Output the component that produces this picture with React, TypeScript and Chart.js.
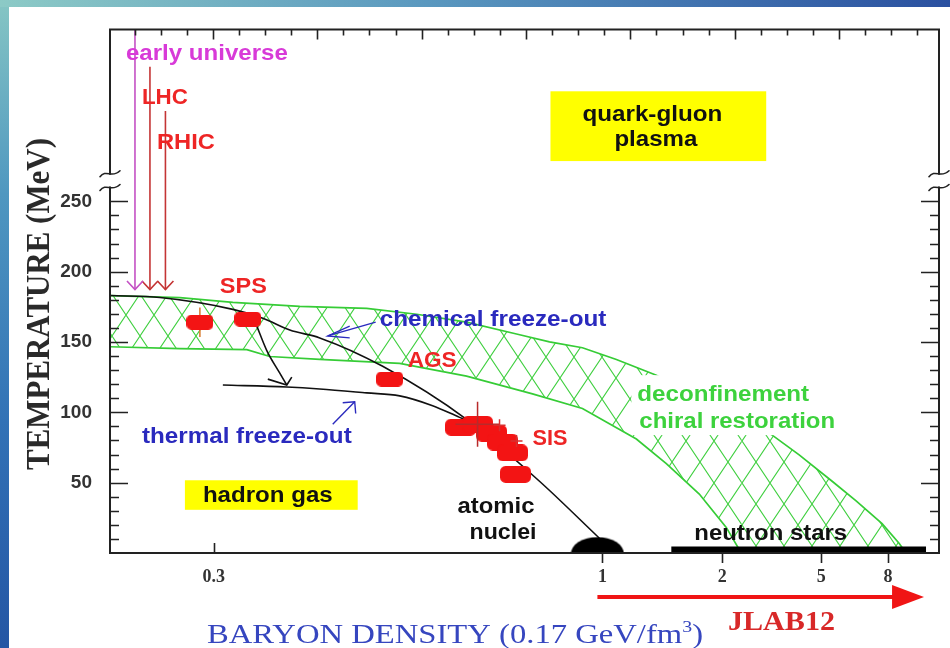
import React, { useEffect, useRef } from 'react';
import { Chart, registerables } from 'chart.js';

Chart.register(...registerables);

// ---------- axes (x = position along the schematic baryon-density axis, y = temperature in MeV) ----------
const X_MIN = 0;
const X_MAX = 830;
const Y_MIN = 0;
const Y_MAX = 372.2;
const X_TICK_POS = [104, 493, 613, 712, 779];
const X_TICK_LABELS = ['0.3', '1', '2', '5', '8'];
const X_TICK_INWARD = [true, false, false, false, false];
const Y_TICKS = [50, 100, 150, 200, 250];
const Y_MINOR_STEP = 10;
const Y_TICK_MAX = 250;
const Y_BREAK = [259.8, 269.6];
const TOP_TICK_START = -1.5;
const TOP_TICK_STEP = 26.125;
const TOP_TICK_COUNT = 31;

// ---------- phase band (deconfinement / chiral restoration) ----------
const BAND_UPPER_X = [0, 70, 123, 190, 257, 307, 357, 407, 440, 473, 507, 547, 663, 690, 723, 747, 773, 790, 797];
const BAND_UPPER_T = [183.0, 181.6, 178.1, 175.3, 173.9, 169.7, 164.1, 155.7, 150.1, 145.9, 137.6, 126.4, 83.8, 69.8, 51.0, 37.0, 20.9, 7.0, 0];
const BAND_LOWER_X = [0, 70, 137, 160, 210, 290, 357, 423, 473, 527, 557, 590, 617, 632, 797];
const BAND_LOWER_T = [146.6, 145.3, 144.6, 139.7, 137.6, 134.8, 125.7, 113.1, 102.7, 81.0, 63.5, 41.9, 18.2, 0, 0];

// ---------- freeze-out curves ----------
const CHEM_X = [0, 50, 123, 153, 180, 210, 273, 357, 430, 490];
const CHEM_T = [183.0, 181.6, 173.2, 166.9, 158.5, 152.9, 132.7, 95.0, 51.0, 10.5];
const THERM_X = [113, 177, 210, 257, 290, 323, 350, 357];
const THERM_T = [119.4, 118.0, 116.6, 113.8, 111.7, 104.7, 96.4, 94.3];
const SPS_ARROW_X = [147, 157, 170, 177];
const SPS_ARROW_T = [161.3, 143.9, 127.8, 119.4];
const SPS_HEAD_X = [158, 177, 182];
const SPS_HEAD_T = [123.6, 119.4, 125.0];

// label pointer arrows (blue)
const CHEM_PTR_X = [266, 218];
const CHEM_PTR_T = [164.1, 154.3];
const CHEM_PTR_HEAD_X = [240, 218, 240];
const CHEM_PTR_HEAD_T = [161.3, 154.3, 152.9];
const THERM_PTR_X = [223, 245];
const THERM_PTR_T = [91.5, 107.5];
const THERM_PTR_HEAD_X = [233, 245, 246];
const THERM_PTR_HEAD_T = [106.8, 107.5, 99.2];

// ---------- accelerator / early-universe probes ----------
const PROBE_X = [25, 40, 55.5];
const PROBE_T_START = [372.2, 345.7, 314.2];
const PROBE_T_END = [187.2, 187.2, 187.2];
const PROBE_HEAD_T = [193.4, 193.4, 193.4];
const PROBE_HEAD_HALF = [8, 8, 8];

// ---------- measured freeze-out points ----------
const SPS_X = [90, 138];
const SPS_T = [164.1, 166.2];
const SPS_ERR_T = [10.5, 0];
const AGS_X = [280];
const AGS_T = [123.6];
const SIS_X = [351, 368, 382, 393, 403, 406];
const SIS_T = [89.4, 91.5, 85.2, 78.9, 71.2, 55.9];
const SIS_ERR_X = [0, 22, 0, 0, 0, 0];
const SIS_ERR_T = [0, 16, 0, 0, 0, 0];
const SIS_CROSS_X = [390, 407];
const SIS_CROSS_T = [90.8, 79.6];

// ---------- nuclei & neutron stars ----------
const NUCLEI_X = [488];
const NUCLEI_T = [5.6];
const NSTAR_X = [562, 817];
const NSTAR_T = [2.1, 2.1];

// ---------- JLAB12 reach ----------
const JLAB_X = [488, 783, 815];

// ---------- colours ----------
const GREEN_LINE = '#36cc36';
const GREEN_TEXT = '#3dd23d';
const RED = '#ee2525';
const RED_LINE = '#c43434';
const MAGENTA = '#d83ad8';
const MAGENTA_LINE = '#c451c4';
const BLUE = '#2a2abe';
const BLACK = '#111111';
const BLOB_RED = '#f31414';

const SANS = '"Liberation Sans", Arial, sans-serif';
const SERIF = '"Liberation Serif", "Times New Roman", serif';

// in-plot labels: text, left/right in x units, baseline in MeV
const LABELS = [
  { text: 'early universe', x0: 16, x1: 178, t: 350.6, color: MAGENTA },
  { text: 'LHC', x0: 32, x1: 78, t: 319.1, color: RED },
  { text: 'RHIC', x0: 47, x1: 105, t: 287.0, color: RED },
  { text: 'quark-gluon', x0: 473, x1: 613, t: 307.3, color: BLACK },
  { text: 'plasma', x0: 505, x1: 588, t: 289.1, color: BLACK },
  { text: 'SPS', x0: 110, x1: 157, t: 185.1, color: RED },
  { text: 'chemical freeze-out', x0: 270, x1: 497, t: 161.3, color: BLUE },
  { text: 'AGS', x0: 298, x1: 347, t: 132.0, color: RED },
  { text: 'thermal freeze-out', x0: 32, x1: 242, t: 78.2, color: BLUE },
  { text: 'SIS', x0: 423, x1: 458, t: 76.8, color: RED },
  { text: 'deconfinement', x0: 528, x1: 700, t: 108.2, color: GREEN_TEXT },
  { text: 'chiral restoration', x0: 530, x1: 726, t: 88.7, color: GREEN_TEXT },
  { text: 'hadron gas', x0: 93, x1: 223, t: 36.3, color: BLACK },
  { text: 'atomic', x0: 348, x1: 425, t: 28.6, color: BLACK },
  { text: 'nuclei', x0: 360, x1: 427, t: 9.8, color: BLACK },
  { text: 'neutron stars', x0: 585, x1: 738, t: 9.1, color: BLACK },
];
const BOXES = [
  { x0: 441, x1: 657, t0: 278.6, t1: 328.2, color: '#ffff00' },
  { x0: 75, x1: 248, t0: 30.7, t1: 51.7, color: '#ffff00' },
  { x0: 522, x1: 740, t0: 83.8, t1: 126.4, color: '#ffffff' },
];

function pts(xs: number[], ys: number[]) {
  return xs.map((x, i) => ({ x, y: ys[i] }));
}

function lineDs(data: any[], color: string, width: number, order: number, extra: any = {}) {
  return {
    data,
    showLine: true,
    borderColor: color,
    borderWidth: width,
    pointRadius: 0,
    pointHoverRadius: 0,
    fill: false,
    tension: 0,
    order,
    ...extra,
  };
}

function makeBlob(w: number, h: number, color: string) {
  const c = document.createElement('canvas');
  c.width = w;
  c.height = h;
  const g = c.getContext('2d')!;
  const r = h * 0.33;
  g.fillStyle = color;
  g.beginPath();
  g.moveTo(r, 0);
  g.arcTo(w, 0, w, h, r);
  g.arcTo(w, h, 0, h, r);
  g.arcTo(0, h, 0, 0, r);
  g.arcTo(0, 0, w, 0, r);
  g.closePath();
  g.fill();
  return c;
}

function makeDome(w: number, h: number) {
  const c = document.createElement('canvas');
  c.width = w;
  c.height = h;
  const g = c.getContext('2d')!;
  g.fillStyle = '#000';
  g.beginPath();
  g.ellipse(w / 2, h, w / 2 - 0.5, h - 0.5, 0, Math.PI, 2 * Math.PI);
  g.closePath();
  g.fill();
  return c;
}

function makeHatch() {
  const c = document.createElement('canvas');
  c.width = 28;
  c.height = 42;
  const g = c.getContext('2d')!;
  g.strokeStyle = '#3fcf3f';
  g.lineWidth = 1.1;
  g.beginPath();
  g.moveTo(0, 0);
  g.lineTo(28, 42);
  g.moveTo(28, 0);
  g.lineTo(0, 42);
  g.stroke();
  return document.createElement('canvas').getContext('2d')!.createPattern(c, 'repeat')!;
}

function fitText(ctx: CanvasRenderingContext2D, text: string, left: number, right: number, baseline: number, font: string, color: string) {
  ctx.save();
  ctx.font = font;
  ctx.fillStyle = color;
  ctx.textAlign = 'left';
  ctx.textBaseline = 'alphabetic';
  const w = ctx.measureText(text).width;
  const s = (right - left) / w;
  ctx.translate(left, baseline);
  ctx.scale(s, 1);
  ctx.fillText(text, 0, 0);
  ctx.restore();
}

function drawErrors(chart: any, index: number, layer: string) {
  const ds = chart.data.datasets[index];
  if (!ds || ds.errLayer !== layer) return;
  const xs = chart.scales.x;
  const ys = chart.scales.y;
  const ctx = chart.ctx;
  ctx.save();
  ctx.strokeStyle = ds.errColor;
  ctx.lineWidth = 1.5;
  ctx.beginPath();
  ds.data.forEach((p: any, i: number) => {
    const ex = ds.errX ? ds.errX[i] : 0;
    const ey = ds.errY ? ds.errY[i] : 0;
    if (ey) {
      ctx.moveTo(xs.getPixelForValue(p.x), ys.getPixelForValue(p.y - ey));
      ctx.lineTo(xs.getPixelForValue(p.x), ys.getPixelForValue(p.y + ey));
    }
    if (ex) {
      ctx.moveTo(xs.getPixelForValue(p.x - ex), ys.getPixelForValue(p.y));
      ctx.lineTo(xs.getPixelForValue(p.x + ex), ys.getPixelForValue(p.y));
    }
  });
  ctx.stroke();
  ctx.restore();
}

const decorPlugin = {
  id: 'decor',
  beforeDraw(chart: any) {
    const ctx = chart.ctx;
    const W = chart.width;
    const H = chart.height;
    const gv = ctx.createLinearGradient(0, 0, 0, H);
    gv.addColorStop(0, '#86c6c4');
    gv.addColorStop(0.3, '#4f97c0');
    gv.addColorStop(0.65, '#3272b6');
    gv.addColorStop(1, '#2456a4');
    ctx.fillStyle = gv;
    ctx.fillRect(0, 0, W, H);
    const gh = ctx.createLinearGradient(0, 0, W, 0);
    gh.addColorStop(0, '#8ccac6');
    gh.addColorStop(0.45, '#5a98bf');
    gh.addColorStop(1, '#2a50a0');
    ctx.fillStyle = gh;
    ctx.fillRect(0, 0, W, 7);
    ctx.fillStyle = '#ffffff';
    ctx.fillRect(9, 7, W - 9, H - 7);
  },
  beforeDatasetDraw(chart: any, args: any) {
    drawErrors(chart, args.index, 'below');
  },
  afterDatasetDraw(chart: any, args: any) {
    drawErrors(chart, args.index, 'above');
  },
  afterDatasetsDraw(chart: any) {
    const ctx = chart.ctx;
    const xs = chart.scales.x;
    const ys = chart.scales.y;
    const { left, right, top, bottom } = chart.chartArea;
    const px = (v: number) => xs.getPixelForValue(v);
    const py = (v: number) => ys.getPixelForValue(v);

    // boxes
    BOXES.forEach((b) => {
      ctx.fillStyle = b.color;
      ctx.fillRect(px(b.x0), py(b.t1), px(b.x1) - px(b.x0), py(b.t0) - py(b.t1));
    });

    // labels
    LABELS.forEach((l) => {
      fitText(ctx, l.text, px(l.x0), px(l.x1), py(l.t), `bold 22px ${SANS}`, l.color);
    });

    // frame
    ctx.save();
    ctx.strokeStyle = '#222';
    ctx.lineWidth = 2;
    ctx.lineCap = 'square';
    const bTop = py(Y_BREAK[1]);
    const bBot = py(Y_BREAK[0]);
    ctx.beginPath();
    ctx.moveTo(left, top);
    ctx.lineTo(right, top);
    ctx.moveTo(left, bottom);
    ctx.lineTo(right, bottom);
    ctx.moveTo(left, top);
    ctx.lineTo(left, bTop);
    ctx.moveTo(left, bBot);
    ctx.lineTo(left, bottom);
    ctx.moveTo(right, top);
    ctx.lineTo(right, bTop);
    ctx.moveTo(right, bBot);
    ctx.lineTo(right, bottom);
    ctx.stroke();

    // break marks
    ctx.lineWidth = 1.6;
    ctx.lineCap = 'round';
    [left, right].forEach((ax) => {
      [bTop, bBot].forEach((yy) => {
        ctx.beginPath();
        ctx.moveTo(ax - 10, yy + 3);
        ctx.bezierCurveTo(ax - 4, yy - 5, ax + 2, yy + 5, ax + 10, yy - 3);
        ctx.stroke();
      });
    });

    // ticks
    ctx.lineWidth = 1.6;
    ctx.lineCap = 'butt';
    ctx.beginPath();
    for (let v = Y_MINOR_STEP; v <= Y_TICK_MAX; v += Y_MINOR_STEP) {
      const len = v % 50 === 0 ? 18 : 9;
      const y = Math.round(py(v)) + 0.5;
      ctx.moveTo(left, y);
      ctx.lineTo(left + len, y);
      ctx.moveTo(right, y);
      ctx.lineTo(right - len, y);
    }
    for (let k = 1; k <= TOP_TICK_COUNT; k++) {
      const x = Math.round(px(TOP_TICK_START + k * TOP_TICK_STEP)) + 0.5;
      const len = k % 4 === 0 ? 10 : 6;
      ctx.moveTo(x, top);
      ctx.lineTo(x, top + len);
    }
    X_TICK_POS.forEach((v, i) => {
      const x = Math.round(px(v)) + 0.5;
      ctx.moveTo(x, bottom);
      ctx.lineTo(x, X_TICK_INWARD[i] ? bottom - 10 : bottom + 10);
    });
    ctx.stroke();
    ctx.restore();

    // JLAB12 arrow
    ctx.save();
    ctx.strokeStyle = '#f01515';
    ctx.fillStyle = '#f01515';
    ctx.lineWidth = 4;
    ctx.beginPath();
    ctx.moveTo(px(JLAB_X[0]), 597);
    ctx.lineTo(px(JLAB_X[1]) + 2, 597);
    ctx.stroke();
    ctx.beginPath();
    ctx.moveTo(px(JLAB_X[1]), 585);
    ctx.lineTo(px(JLAB_X[2]), 597);
    ctx.lineTo(px(JLAB_X[1]), 609);
    ctx.closePath();
    ctx.fill();
    ctx.restore();
    fitText(ctx, 'JLAB12', 728, 835, 630, `bold 27px ${SERIF}`, '#d82828');

    // y title
    ctx.save();
    ctx.translate(49, 470);
    ctx.rotate(-Math.PI / 2);
    fitText(ctx, 'TEMPERATURE (MeV)', 0, 332, 0, `bold 33px ${SERIF}`, '#2a2a2a');
    ctx.restore();

    // x title with superscript
    ctx.save();
    const mainFont = `28px ${SERIF}`;
    const supFont = `17px ${SERIF}`;
    const t1 = 'BARYON DENSITY (0.17 GeV/fm';
    const t2 = '3';
    const t3 = ')';
    ctx.font = mainFont;
    const w1 = ctx.measureText(t1).width;
    const w3 = ctx.measureText(t3).width;
    ctx.font = supFont;
    const w2 = ctx.measureText(t2).width;
    const s = 496 / (w1 + w2 + w3);
    ctx.translate(207, 643);
    ctx.scale(s, 1);
    ctx.fillStyle = '#3646bf';
    ctx.textBaseline = 'alphabetic';
    ctx.font = mainFont;
    ctx.fillText(t1, 0, 0);
    ctx.font = supFont;
    ctx.fillText(t2, w1, -11);
    ctx.font = mainFont;
    ctx.fillText(t3, w1 + w2, 0);
    ctx.restore();
  },
};

export default function App() {
  const ref = useRef<HTMLCanvasElement>(null);

  useEffect(() => {
    const canvas = ref.current!;
    const hatch = makeHatch();
    const blob = makeBlob(27, 15, BLOB_RED);
    const bigBlob = makeBlob(31, 17, BLOB_RED);
    const dome = makeDome(54, 17);

    const datasets: any[] = [
      lineDs(pts(BAND_LOWER_X, BAND_LOWER_T), GREEN_LINE, 1.7, 20, {
        segment: {
          borderColor: (c: any) => (c.p0.parsed.y === 0 && c.p1.parsed.y === 0 ? 'rgba(0,0,0,0)' : GREEN_LINE),
        },
      }),
      lineDs(pts(BAND_UPPER_X, BAND_UPPER_T), GREEN_LINE, 1.7, 19, { fill: '-1', backgroundColor: hatch }),
      lineDs(pts(CHEM_X, CHEM_T), BLACK, 1.6, 5, { cubicInterpolationMode: 'monotone' }),
      lineDs(pts(THERM_X, THERM_T), BLACK, 1.6, 5, { cubicInterpolationMode: 'monotone' }),
      lineDs(pts(SPS_ARROW_X, SPS_ARROW_T), BLACK, 1.6, 5, { cubicInterpolationMode: 'monotone' }),
      lineDs(pts(SPS_HEAD_X, SPS_HEAD_T), BLACK, 1.6, 5),
      lineDs(pts(CHEM_PTR_X, CHEM_PTR_T), BLUE, 1.4, 5),
      lineDs(pts(CHEM_PTR_HEAD_X, CHEM_PTR_HEAD_T), BLUE, 1.4, 5),
      lineDs(pts(THERM_PTR_X, THERM_PTR_T), BLUE, 1.4, 5),
      lineDs(pts(THERM_PTR_HEAD_X, THERM_PTR_HEAD_T), BLUE, 1.4, 5),
    ];
    PROBE_X.forEach((x, i) => {
      const c = i === 0 ? MAGENTA_LINE : RED_LINE;
      datasets.push(lineDs([{ x, y: PROBE_T_START[i] }, { x, y: PROBE_T_END[i] }], c, 1.6, 6));
      datasets.push(
        lineDs(
          [
            { x: x - PROBE_HEAD_HALF[i], y: PROBE_HEAD_T[i] },
            { x, y: PROBE_T_END[i] },
            { x: x + PROBE_HEAD_HALF[i], y: PROBE_HEAD_T[i] },
          ],
          c,
          1.6,
          6
        )
      );
    });
    datasets.push(lineDs(pts(NSTAR_X, NSTAR_T), '#000', 7, 4));
    datasets.push({ data: pts(NUCLEI_X, NUCLEI_T), pointStyle: dome, pointRadius: 10, showLine: false, order: 3 });
    datasets.push({
      data: pts(SPS_X, SPS_T),
      pointStyle: blob,
      pointRadius: 10,
      showLine: false,
      order: 1,
      errY: SPS_ERR_T,
      errColor: '#d8782a',
      errLayer: 'below',
    });
    datasets.push({ data: pts(AGS_X, AGS_T), pointStyle: blob, pointRadius: 10, showLine: false, order: 1 });
    datasets.push({
      data: pts(SIS_X, SIS_T),
      pointStyle: bigBlob,
      pointRadius: 10,
      showLine: false,
      order: 1,
      errX: SIS_ERR_X,
      errY: SIS_ERR_T,
      errColor: '#b82a2a',
      errLayer: 'above',
    });
    datasets.push({
      data: pts(SIS_CROSS_X, SIS_CROSS_T),
      pointStyle: 'cross',
      pointRadius: 6,
      borderColor: '#d83030',
      borderWidth: 1.5,
      showLine: false,
      order: 0,
    });

    const chart = new Chart(canvas, {
      type: 'scatter',
      data: { datasets },
      options: {
        animation: false,
        responsive: false,
        devicePixelRatio: 1,
        events: [],
        layout: { padding: { top: 20, right: 10, left: 0, bottom: 0 } },
        plugins: { legend: { display: false }, tooltip: { enabled: false } },
        scales: {
          x: {
            type: 'linear',
            position: 'bottom',
            min: X_MIN,
            max: X_MAX,
            afterFit: (s: any) => {
              s.height = 95;
            },
            afterBuildTicks: (s: any) => {
              s.ticks = X_TICK_POS.map((v) => ({ value: v }));
            },
            ticks: {
              autoSkip: false,
              maxRotation: 0,
              padding: 14,
              color: '#333',
              font: { family: '"Liberation Serif", serif', weight: 'bold', size: 18 },
              callback: (_v: any, i: number) => X_TICK_LABELS[i],
            },
            grid: { display: false, drawTicks: false },
            border: { display: false },
          },
          y: {
            type: 'linear',
            position: 'left',
            min: Y_MIN,
            max: Y_MAX,
            afterFit: (s: any) => {
              s.width = 110;
            },
            afterBuildTicks: (s: any) => {
              s.ticks = Y_TICKS.map((v) => ({ value: v }));
            },
            ticks: {
              autoSkip: false,
              padding: 18,
              color: '#333',
              font: { family: '"Liberation Sans", Arial, sans-serif', weight: 'bold', size: 19 },
              callback: (v: any) => String(v),
            },
            grid: { display: false, drawTicks: false },
            border: { display: false },
          },
        },
      } as any,
      plugins: [decorPlugin],
    });
    return () => chart.destroy();
  }, []);

  return (
    <div style={{ position: 'absolute', left: 0, top: 0, width: 950, height: 648 }}>
      <canvas ref={ref} width={950} height={648} style={{ display: 'block', width: 950, height: 648 }} />
    </div>
  );
}
